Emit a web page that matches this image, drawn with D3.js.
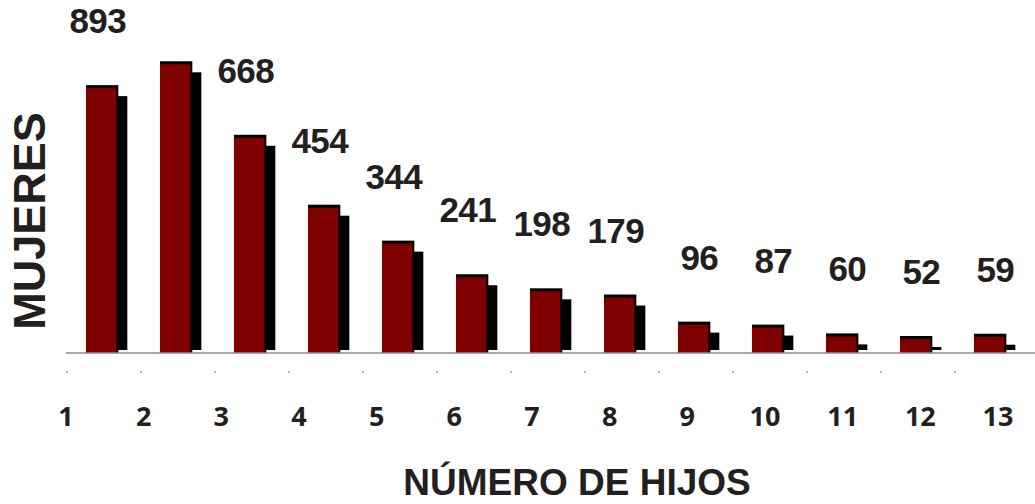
<!DOCTYPE html>
<html>
<head>
<meta charset="utf-8">
<script src="https://cdn.jsdelivr.net/npm/d3@7"></script>
<style>
  body { margin: 0; background: #fff; }
</style>
</head>
<body>
<div id="grafico"></div>
<script>
const ancho = 1035;
const alto = 504;

const categorias = [1, 2, 3, 4, 5, 6, 7, 8, 9, 10, 11, 12, 13];
const mujeres = [820, 893, 668, 454, 344, 241, 198, 179, 96, 87, 60, 52, 59];

// Etiquetas de datos tal como aparecen en el grafico
const etiquetaCategoria = [1, 3, 4, 5, 6, 7, 8, 9, 10, 11, 12, 13];
const etiquetaTexto = ["893", "668", "454", "344", "241", "198", "179", "96", "87", "60", "52", "59"];

const svg = d3.select("#grafico")
  .append("svg")
  .attr("width", ancho)
  .attr("height", alto);

const base = 353;

const xCelda = d3.scaleBand()
  .domain(categorias)
  .range([66, 1028]);

const xEtiqueta = d3.scalePoint()
  .domain(categorias)
  .range([66, 998]);

const y = d3.scaleLinear()
  .domain([0, 900])
  .range([base, 59]);

const paso = xCelda.bandwidth();
const desplazar = paso * 0.27;
const anchoBarra = paso * 0.41;

const datos = categorias.map((c, i) => ({ cat: c, valor: mujeres[i] }));

// Sombras
svg.append("g")
  .selectAll("rect")
  .data(datos)
  .enter()
  .append("rect")
  .attr("x", d => xCelda(d.cat) + desplazar + 11)
  .attr("y", d => y(d.valor) + 11)
  .attr("width", anchoBarra)
  .attr("height", d => Math.max(0, base - 3 - (y(d.valor) + 11)))
  .attr("fill", "#000");

// Borde negro de la barra
svg.append("g")
  .selectAll("rect")
  .data(datos)
  .enter()
  .append("rect")
  .attr("x", d => xCelda(d.cat) + desplazar)
  .attr("y", d => y(d.valor))
  .attr("width", anchoBarra + 2)
  .attr("height", d => base - y(d.valor))
  .attr("fill", "#000");

// Barras
svg.append("g")
  .selectAll("rect")
  .data(datos)
  .enter()
  .append("rect")
  .attr("x", d => xCelda(d.cat) + desplazar)
  .attr("y", d => y(d.valor) + 3)
  .attr("width", anchoBarra)
  .attr("height", d => base - y(d.valor) - 3)
  .attr("fill", "#800000");

// Linea base
svg.append("line")
  .attr("x1", 66)
  .attr("x2", ancho)
  .attr("y1", base)
  .attr("y2", base)
  .attr("stroke", "#8c8c8c")
  .attr("stroke-width", 1.5);

// Marcas pequenas del eje
svg.append("g")
  .selectAll("rect")
  .data(categorias)
  .enter()
  .append("rect")
  .attr("x", d => xCelda(d) + 0.5)
  .attr("y", 371)
  .attr("width", 1)
  .attr("height", 2)
  .attr("fill", "#777");

// Etiquetas del eje X
svg.append("g")
  .selectAll("text")
  .data(categorias)
  .enter()
  .append("text")
  .attr("x", d => xEtiqueta(d))
  .attr("y", 426)
  .attr("text-anchor", "middle")
  .style("font-family", "'Open Sans', sans-serif")
  .style("font-weight", "bold")
  .style("font-size", "27px")
  .style("fill", "#231f20")
  .text(d => d);

// Etiquetas de datos (recortadas al area del grafico)
svg.append("clipPath")
  .attr("id", "recorte")
  .append("rect")
  .attr("x", 68)
  .attr("y", 0)
  .attr("width", ancho - 68)
  .attr("height", alto);

const valorDe = c => mujeres[categorias.indexOf(c)];

svg.append("g")
  .attr("clip-path", "url(#recorte)")
  .selectAll("text")
  .data(etiquetaCategoria.map((c, i) => ({ cat: c, texto: etiquetaTexto[i] })))
  .enter()
  .append("text")
  .attr("x", d => xCelda(d.cat) + desplazar + anchoBarra + 10)
  .attr("y", d => y(valorDe(d.cat)) - 52)
  .attr("text-anchor", "end")
  .style("font-family", "'Liberation Sans', Arial, sans-serif")
  .style("font-weight", "bold")
  .style("font-size", "35px")
  .style("letter-spacing", "-0.5px")
  .style("fill", "#231f20")
  .text(d => d.texto);

// Titulos
svg.append("text")
  .attr("transform", "translate(45,221) rotate(-90)")
  .attr("text-anchor", "middle")
  .style("font-family", "'Liberation Sans', Arial, sans-serif")
  .style("font-weight", "bold")
  .style("font-size", "45px")
  .style("fill", "#231f20")
  .text("MUJERES");

svg.append("text")
  .attr("x", 577)
  .attr("y", 495)
  .attr("text-anchor", "middle")
  .style("font-family", "'Liberation Sans', Arial, sans-serif")
  .style("font-weight", "bold")
  .style("font-size", "37px")
  .style("fill", "#231f20")
  .text("NÚMERO DE HIJOS");
</script>
</body>
</html>
